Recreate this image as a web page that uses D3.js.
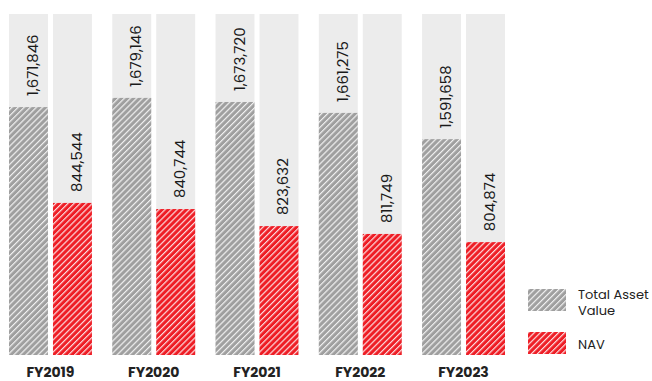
<!DOCTYPE html>
<html>
<head>
<meta charset="utf-8">
<script src="https://cdn.jsdelivr.net/npm/d3@7"></script>
<style>
  body { margin: 0; background: #fff; }
  svg { font-family: "Poppins", Roboto, "Noto Sans", sans-serif; }
</style>
</head>
<body>
<svg id="chart"></svg>
<script>
// categories and values
var years = ["FY2019", "FY2020", "FY2021", "FY2022", "FY2023"];
var totalAssetValue = [1671846, 1679146, 1673720, 1661275, 1591658];
var nav = [844544, 840744, 823632, 811749, 804874];
// fill level of each bar, in % of the column, as drawn in the picture
var tavLevel = [72.7, 75.4, 74.2, 71.0, 63.3];
var navLevel = [44.6, 42.8, 37.8, 35.5, 33.1];
var legendLines = [["Total Asset", "Value"], ["NAV"]];

var screen = { width: 652, height: 381 };
var margins = { top: 14, bottom: 26, left: 9, right: 147 };

var drawChart = function(idName, screen, margins)
{
  var graphWidth = screen.width - margins.left - margins.right;
  var graphHeight = screen.height - margins.top - margins.bottom;

  var colors = { tav: "#9f9f9f", nav: "#ee1d25", bg: "#ececec" };

  var svg = d3.select(idName)
    .attr("width", screen.width)
    .attr("height", screen.height);

  // hatch patterns
  var defs = svg.append("defs");
  [["hatchTav", colors.tav], ["hatchNav", colors.nav]].forEach(function(p)
  {
    var pat = defs.append("pattern")
      .attr("id", p[0])
      .attr("patternUnits", "userSpaceOnUse")
      .attr("width", 4.3)
      .attr("height", 8)
      .attr("patternTransform", "rotate(45)");
    pat.append("rect")
      .attr("width", 4.3).attr("height", 8)
      .attr("fill", p[1]);
    pat.append("rect")
      .attr("width", 1.2).attr("height", 8)
      .attr("fill", "#fff")
      .attr("fill-opacity", 0.85);
  });

  var x0 = d3.scaleBand()
    .domain(years)
    .range([margins.left, margins.left + graphWidth])
    .paddingInner(0.197)
    .paddingOuter(0);

  var x1 = d3.scaleBand()
    .domain(["tav", "nav"])
    .range([0, x0.bandwidth()])
    .paddingInner(0.114);

  var y = d3.scaleLinear()
    .domain([0, 100])
    .range([margins.top + graphHeight, margins.top]);

  var rows = years.map(function(yr, i)
  {
    return {
      year: yr,
      bars: [
        { key: "tav", level: tavLevel[i], value: totalAssetValue[i] },
        { key: "nav", level: navLevel[i], value: nav[i] }
      ]
    };
  });

  var fmt = d3.format(",");

  var groups = svg.append("g")
    .selectAll("g")
    .data(rows)
    .join("g")
      .attr("transform", d => `translate(${x0(d.year)},0)`);

  var bars = groups.selectAll("g")
    .data(d => d.bars)
    .join("g");

  // grey background column
  bars.append("rect")
    .attr("x", d => x1(d.key))
    .attr("y", y(100))
    .attr("width", x1.bandwidth())
    .attr("height", y(0) - y(100))
    .attr("fill", colors.bg);

  bars.append("rect")
    .attr("x", d => x1(d.key))
    .attr("y", d => y(d.level))
    .attr("width", x1.bandwidth())
    .attr("height", d => y(0) - y(d.level))
    .attr("fill", d => d.key == "tav" ? "url(#hatchTav)" : "url(#hatchNav)");

  bars.append("text")
    .attr("transform", d => `translate(${x1(d.key) + x1.bandwidth() / 2 + 9.5},${y(d.level) - 11}) rotate(-90)`)
    .attr("font-size", 15)
    .attr("fill", "#1a1a1a")
    .text(d => fmt(d.value));

  // x axis labels
  svg.append("g")
    .selectAll("text")
    .data(years)
    .join("text")
      .attr("x", d => x0(d) + x0.bandwidth() / 2)
      .attr("y", 377)
      .attr("text-anchor", "middle")
      .attr("font-size", 14)
      .attr("font-weight", "bold")
      .attr("fill", "#222")
      .text(d => d);

  // legend
  var legend = svg.append("g")
    .attr("transform", "translate(528,289)");
  var items = legend.selectAll("g")
    .data(legendLines)
    .join("g")
      .attr("transform", (d, i) => `translate(0,${i * 43})`);
  items.append("rect")
    .attr("width", 38)
    .attr("height", 22)
    .attr("fill", (d, i) => i == 0 ? "url(#hatchTav)" : "url(#hatchNav)");
  items.selectAll("text")
    .data(d => d.map((l, j) => ({ line: l, j: j, n: d.length })))
    .join("text")
      .attr("x", 50)
      .attr("y", d => d.n == 1 ? 17 : 10 + d.j * 16)
      .attr("font-size", 13)
      .attr("fill", "#222")
      .text(d => d.line);
}

drawChart("#chart", screen, margins);
</script>
</body>
</html>
